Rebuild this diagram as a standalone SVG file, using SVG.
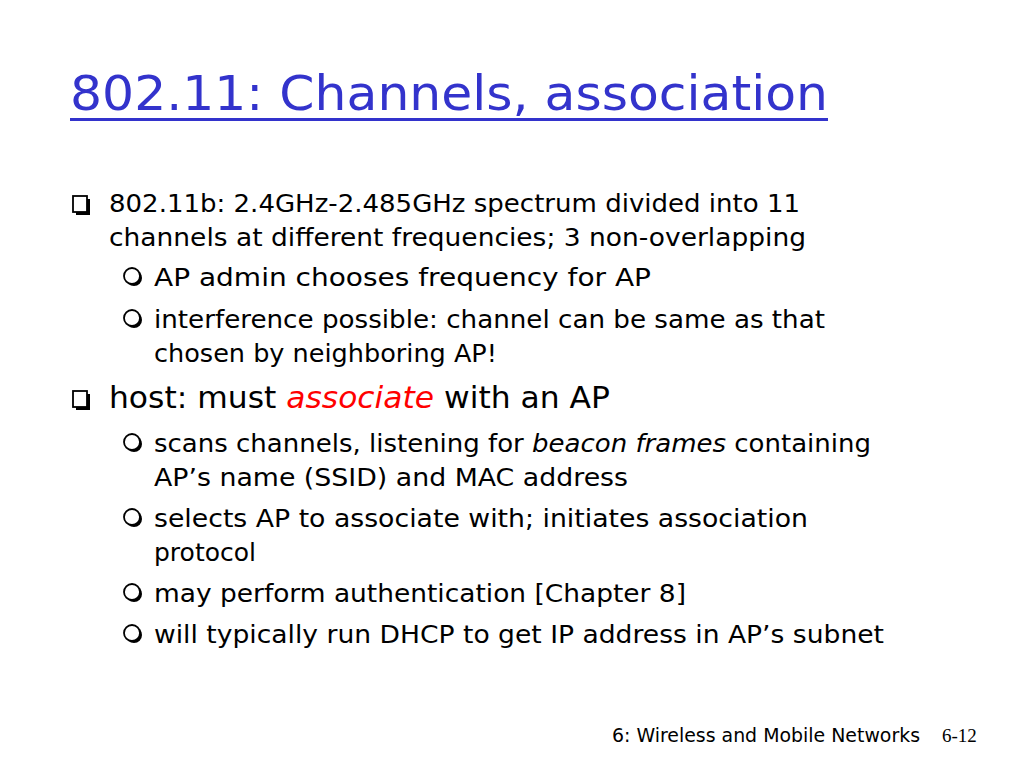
<svg xmlns="http://www.w3.org/2000/svg" width="1024" height="768" viewBox="0 0 1024 768">
<style>
text{font-family:"DejaVu Sans","Liberation Sans",sans-serif;fill:#000}
.t{font-size:48px;fill:#3333cc}
.l1{font-size:25px}
.l2{font-size:25px}
.h{font-size:30px}
.f{font-size:19px}
.sq{fill:#fff;stroke:#000;stroke-width:1.8}
.ci{fill:#fff;stroke:#000;stroke-width:1.8}
</style>
<defs>
<g id="sqb"><rect x="3" y="3" width="14" height="16" fill="#000"/><rect x="0" y="0" width="14" height="16" class="sq"/></g>
<g id="cib"><circle cx="10" cy="10" r="8" fill="#000"/><circle cx="8" cy="8" r="8" class="ci"/></g>
</defs>
<rect width="1024" height="768" fill="#fff"/>
<text class="t" x="70" y="110" textLength="758" lengthAdjust="spacingAndGlyphs">802.11: Channels, association</text>
<rect x="70" y="118" width="758" height="3" fill="#3333cc"/>
<use href="#sqb" x="73" y="196"/>
<text class="l1" x="109" y="212" textLength="691" lengthAdjust="spacingAndGlyphs">802.11b: 2.4GHz-2.485GHz spectrum divided into 11</text>
<text class="l1" x="109" y="246" textLength="697" lengthAdjust="spacingAndGlyphs">channels at different frequencies; 3 non-overlapping</text>
<use href="#cib" x="124" y="268"/>
<text class="l2" x="154" y="286" textLength="497" lengthAdjust="spacingAndGlyphs">AP admin chooses frequency for AP</text>
<use href="#cib" x="124" y="310"/>
<text class="l2" x="154" y="328" textLength="671" lengthAdjust="spacingAndGlyphs">interference possible: channel can be same as that</text>
<text class="l2" x="154" y="362" textLength="343" lengthAdjust="spacingAndGlyphs">chosen by neighboring AP!</text>
<use href="#sqb" x="73" y="391"/>
<text class="h" x="109" y="408" textLength="501" lengthAdjust="spacingAndGlyphs">host: must <tspan fill="#ff0000" font-style="italic">associate</tspan> with an AP</text>
<use href="#cib" x="124" y="434"/>
<text class="l2" x="154" y="452" textLength="717" lengthAdjust="spacingAndGlyphs">scans channels, listening for <tspan font-style="italic">beacon frames</tspan> containing</text>
<text class="l2" x="154" y="486" textLength="474" lengthAdjust="spacingAndGlyphs">AP’s name (SSID) and MAC address</text>
<use href="#cib" x="124" y="509"/>
<text class="l2" x="154" y="527" textLength="654" lengthAdjust="spacingAndGlyphs">selects AP to associate with; initiates association</text>
<text class="l2" x="154" y="561">protocol</text>
<use href="#cib" x="124" y="584"/>
<text class="l2" x="154" y="602" textLength="532" lengthAdjust="spacingAndGlyphs">may perform authentication [Chapter 8]</text>
<use href="#cib" x="124" y="625"/>
<text class="l2" x="154" y="643" textLength="730" lengthAdjust="spacingAndGlyphs">will typically run DHCP to get IP address in AP’s subnet</text>
<text class="f" x="612" y="742" textLength="308" lengthAdjust="spacingAndGlyphs">6: Wireless and Mobile Networks</text>
<text x="942" y="742" style="font-family:'Liberation Serif',serif;font-size:19px">6-12</text>
</svg>
